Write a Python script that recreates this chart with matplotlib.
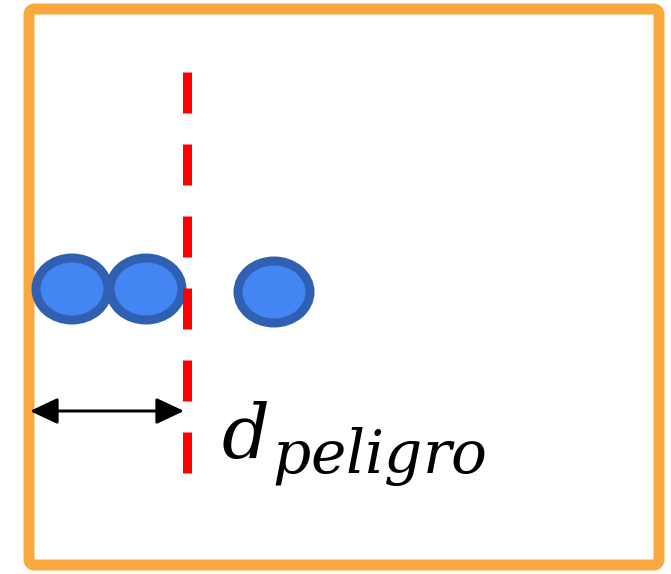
import matplotlib.pyplot as plt
from matplotlib.patches import Ellipse, FancyBboxPatch

# Posiciones de los objetos (en píxeles de la imagen)
centros_x = [72, 146, 274]
centros_y = [289, 289, 292]
anchos = [72, 72, 72]
altos = [62, 62, 62]

# Línea de peligro
x_peligro = 187
y_peligro = [72, 474]

# Flecha de distancia
flecha_x = [30, 184]
flecha_y = 411

simbolo = r'$d$'
subindice = r'$peligro$'

PX = 0.72  # puntos por píxel a 100 dpi

plt.rcParams['mathtext.fontset'] = 'dejavuserif'

fig = plt.figure(figsize=(6.71, 5.74), dpi=100)
ax = fig.add_axes([0, 0, 1, 1])
ax.set_xlim(0, 671)
ax.set_ylim(574, 0)
ax.axis('off')

# Marco naranja
marco = FancyBboxPatch((29, 9), 630, 556, boxstyle='round,pad=0,rounding_size=6',
                       fill=False, edgecolor='#FBA83E', linewidth=11 * PX)
ax.add_patch(marco)

# Línea roja discontinua
ax.plot([x_peligro, x_peligro], y_peligro, color='#FF0000', linewidth=9 * PX,
        dashes=(41 / 9, 31 / 9), solid_capstyle='butt', dash_capstyle='butt')

# Objetos azules
for cx, cy, w, h in zip(centros_x, centros_y, anchos, altos):
    ax.add_patch(Ellipse((cx, cy), w, h, facecolor='#4385F3',
                         edgecolor='#2F60B1', linewidth=9 * PX))

# Flecha de doble sentido
ax.annotate('', xy=(flecha_x[0], flecha_y), xytext=(flecha_x[1], flecha_y),
            arrowprops=dict(arrowstyle='<|-|>,head_length=1.7,head_width=0.8',
                            color='black', linewidth=3 * PX,
                            shrinkA=0, shrinkB=0))

# Etiqueta d_peligro
ax.text(221, 458, simbolo, fontsize=54, ha='left', va='baseline', color='black')
ax.text(272, 473, subindice, fontsize=43, ha='left', va='baseline', color='black')

fig.savefig('out.png', dpi=100)
